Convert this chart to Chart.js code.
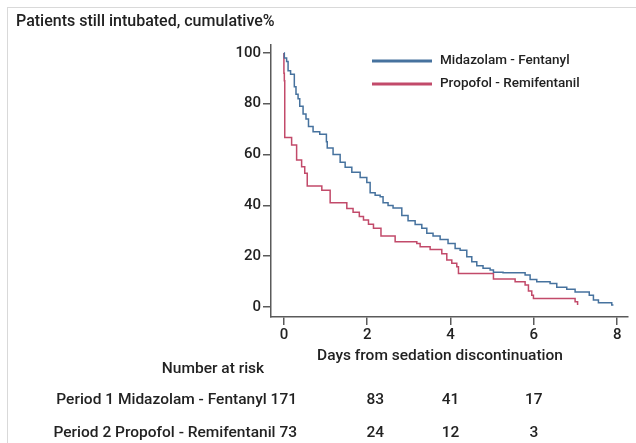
<!DOCTYPE html>
<html>
<head>
<meta charset="utf-8">
<script src="https://cdn.jsdelivr.net/npm/chart.js@4.4.1/dist/chart.umd.min.js"></script>
<style>
  html, body { margin: 0; padding: 0; background: #fff; }
  #wrap { position: relative; width: 636px; height: 443px; overflow: hidden; }
  #frame { position: absolute; left: 7px; top: 7px; right: 0; bottom: 0;
           border-top: 1px solid #d9d9d9; border-left: 1px solid #d9d9d9; }
  canvas { position: absolute; left: 0; top: 0; }
</style>
</head>
<body>
<div id="wrap"><div id="frame"></div><canvas id="km" width="636" height="443"></canvas></div>
<script>
(function () {
  "use strict";

  /* ---- data ------------------------------------------------------- */
  // Kaplan-Meier steps: day of each drop and the % still intubated after it
  var midaDays = [0, 0.01, 0.065, 0.10, 0.16, 0.25, 0.29, 0.34, 0.38, 0.46, 0.53, 0.59, 0.70, 0.86,
    1.02, 1.04, 1.18, 1.35, 1.47, 1.63, 1.83, 1.99, 2.07, 2.19, 2.31, 2.38, 2.50, 2.62, 2.83, 2.98,
    3.15, 3.31, 3.43, 3.58, 3.75, 3.94, 4.11, 4.23, 4.39, 4.51, 4.63, 4.78, 4.95, 5.03, 5.26,
    5.79, 5.91, 6.07, 6.39, 6.55, 6.79, 6.99, 7.33, 7.43, 7.55, 7.87, 7.91];
  var midaPct = [100, 98, 96.6, 93, 91.6, 86.7, 83.7, 82, 79, 76, 74, 71, 69, 68,
    65, 62.6, 60, 57, 55, 53, 51, 49, 45, 44, 43.4, 41, 40, 39, 36, 34,
    32.5, 31, 29, 28, 26.6, 25, 23, 22.4, 19.8, 17.8, 16.3, 15.3, 14.6, 13.7, 13.5,
    12.6, 10.9, 10, 9.3, 7.8, 7, 5.9, 4.7, 2.8, 1.7, 0.8, 0.8];

  var propDays = [0, 0, 0.01, 0.02, 0.185, 0.305, 0.425, 0.50, 0.56, 0.91, 1.11, 1.51, 1.66, 1.81,
    1.91, 2.03, 2.15, 2.33, 2.67, 3.19, 3.27, 3.51, 3.79, 3.91, 4.03, 4.15, 4.19, 5.03, 5.55,
    5.79, 5.87, 5.95, 5.99, 6.99, 7.05];
  var propPct = [100, 92, 89, 66.7, 63.8, 57.9, 55.2, 52.6, 47.6, 46, 41, 38.8, 37.3, 35.6,
    34.3, 32.6, 31, 28, 25.7, 25, 23.7, 22.7, 21, 18.5, 17.2, 15.9, 13.2, 11, 10,
    8.7, 6.3, 4.7, 3.4, 2.1, 0.8];

  var seriesNames = ["Midazolam - Fentanyl", "Propofol - Remifentanil"];
  var xTicks = [0, 2, 4, 6, 8];
  var yTicks = [0, 20, 40, 60, 80, 100];

  var riskDays = [2, 4, 6];
  var riskRows = ["Period 1 Midazolam - Fentanyl 171", "Period 2 Propofol - Remifentanil 73"];
  var riskMida = [83, 41, 17];
  var riskProp = [24, 12, 3];

  /* ---- look ------------------------------------------------------- */
  var BLUE = "#46729e";
  var RED = "#c24a6a";
  var AXIS = "#5a5a5a";
  var INK = "#222222";
  var FONT = "Roboto, 'DejaVu Sans', sans-serif";

  var pts = function (xs, ys) {
    return xs.map(function (x, i) { return { x: x, y: ys[i] }; });
  };

  /* title, legend, axis title and the number-at-risk table */
  var extras = {
    id: "extras",
    afterDraw: function (chart) {
      var ctx = chart.ctx;
      var xs = chart.scales.x;
      ctx.save();
      ctx.fillStyle = INK;
      ctx.textBaseline = "middle";

      ctx.font = "500 16px " + FONT;
      ctx.textAlign = "left";
      ctx.fillText("Patients still intubated, cumulative%", 16, 22);

      // legend
      ctx.font = "500 13.5px " + FONT;
      chart.data.datasets.forEach(function (ds, i) {
        var y = 61 + i * 23;
        ctx.strokeStyle = ds.borderColor;
        ctx.lineWidth = 3;
        ctx.beginPath();
        ctx.moveTo(372, y);
        ctx.lineTo(432, y);
        ctx.stroke();
        ctx.fillText(ds.label, 440, y);
      });

      ctx.font = "500 15.5px " + FONT;
      ctx.textAlign = "center";
      ctx.fillText("Days from sedation discontinuation", 440, 356);
      ctx.fillText("Number at risk", 213, 369);

      ctx.textAlign = "right";
      ctx.fillText(riskRows[0], 297, 400);
      ctx.fillText(riskRows[1], 297, 433);

      ctx.textAlign = "center";
      riskDays.forEach(function (d, i) {
        var px = xs.getPixelForValue(d) + (i === 0 ? 8 : 0);
        ctx.fillText(String(riskMida[i]), px, 400);
        ctx.fillText(String(riskProp[i]), px, 433);
      });
      ctx.restore();
    }
  };

  var tickStyle = {
    display: true,
    drawOnChartArea: false,
    drawTicks: true,
    tickLength: 8,
    color: AXIS,
    lineWidth: 1.5
  };

  new Chart(document.getElementById("km"), {
    type: "line",
    data: {
      datasets: [
        { label: seriesNames[0], data: pts(midaDays, midaPct), borderColor: BLUE,
          backgroundColor: BLUE, borderWidth: 1.5, pointRadius: 0, stepped: true, fill: false },
        { label: seriesNames[1], data: pts(propDays, propPct), borderColor: RED,
          backgroundColor: RED, borderWidth: 1.5, pointRadius: 0, stepped: true, fill: false }
      ]
    },
    options: {
      responsive: false,
      animation: false,
      events: [],
      layout: { padding: { top: 45, right: 8, left: 0, bottom: 0 } },
      plugins: { legend: { display: false }, tooltip: { enabled: false } },
      scales: {
        x: {
          type: "linear",
          min: -0.31,
          max: 8.26,
          afterBuildTicks: function (s) { s.ticks = xTicks.map(function (v) { return { value: v }; }); },
          afterFit: function (s) { s.height = 126; },
          grid: tickStyle,
          border: { display: true, color: AXIS, width: 1.5 },
          ticks: { color: INK, font: { family: FONT, size: 15, weight: "500" }, padding: 1, maxRotation: 0 }
        },
        y: {
          type: "linear",
          min: -3.9,
          max: 103.1,
          afterBuildTicks: function (s) { s.ticks = yTicks.map(function (v) { return { value: v }; }); },
          afterFit: function (s) { s.width = 271; },
          grid: tickStyle,
          border: { display: true, color: AXIS, width: 1.5 },
          ticks: { color: INK, font: { family: FONT, size: 15, weight: "500" }, padding: 2 }
        }
      }
    },
    plugins: [extras]
  });
})();
</script>
</body>
</html>
